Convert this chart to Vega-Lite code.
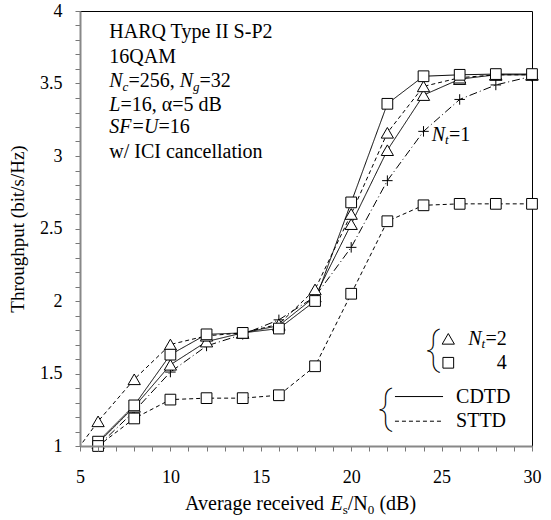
{
  "$schema": "https://vega.github.io/schema/vega-lite/v6.json",
  "width": 452,
  "height": 435,
  "autosize": {"type": "none"},
  "padding": {"left": 80, "top": 11, "right": 19, "bottom": 74},
  "background": "white",
  "resolve": {"axis": {"x": "independent", "y": "independent"}},
  "config": {
    "view": {"stroke": "black", "strokeWidth": 1},
    "font": "Liberation Serif",
    "axis": {
      "domainColor": "#888888",
      "domainWidth": 2,
      "tickColor": "#777777",
      "tickWidth": 1,
      "tickSize": 5,
      "grid": false,
      "labelFont": "Liberation Serif",
      "labelFontSize": 18,
      "labelColor": "black",
      "labelOverlap": false,
      "labelFlush": false,
      "labelBound": false,
      "titleFont": "Liberation Serif",
      "titleFontSize": 19,
      "titleFontWeight": "normal",
      "titleColor": "black"
    }
  },
  "datasets": {
    "curves": [
      {"series": "CDTD Nt=2", "x": 6, "y": 1.02},
      {"series": "CDTD Nt=2", "x": 8, "y": 1.27},
      {"series": "CDTD Nt=2", "x": 10, "y": 1.56},
      {"series": "CDTD Nt=2", "x": 12, "y": 1.72},
      {"series": "CDTD Nt=2", "x": 14, "y": 1.78},
      {"series": "CDTD Nt=2", "x": 16, "y": 1.83},
      {"series": "CDTD Nt=2", "x": 18, "y": 2.03},
      {"series": "CDTD Nt=2", "x": 20, "y": 2.53},
      {"series": "CDTD Nt=2", "x": 22, "y": 3.04},
      {"series": "CDTD Nt=2", "x": 24, "y": 3.42},
      {"series": "CDTD Nt=2", "x": 26, "y": 3.53},
      {"series": "CDTD Nt=2", "x": 28, "y": 3.56},
      {"series": "CDTD Nt=2", "x": 30, "y": 3.56},
      {"series": "CDTD Nt=4", "x": 6, "y": 1.03},
      {"series": "CDTD Nt=4", "x": 8, "y": 1.28},
      {"series": "CDTD Nt=4", "x": 10, "y": 1.63},
      {"series": "CDTD Nt=4", "x": 12, "y": 1.77},
      {"series": "CDTD Nt=4", "x": 14, "y": 1.78},
      {"series": "CDTD Nt=4", "x": 16, "y": 1.81},
      {"series": "CDTD Nt=4", "x": 18, "y": 2.0},
      {"series": "CDTD Nt=4", "x": 20, "y": 2.68},
      {"series": "CDTD Nt=4", "x": 22, "y": 3.36},
      {"series": "CDTD Nt=4", "x": 24, "y": 3.55},
      {"series": "CDTD Nt=4", "x": 26, "y": 3.56},
      {"series": "CDTD Nt=4", "x": 28, "y": 3.565},
      {"series": "CDTD Nt=4", "x": 30, "y": 3.565},
      {"series": "STTD Nt=2", "x": 4, "y": 0.83},
      {"series": "STTD Nt=2", "x": 6, "y": 1.17},
      {"series": "STTD Nt=2", "x": 8, "y": 1.46},
      {"series": "STTD Nt=2", "x": 10, "y": 1.7},
      {"series": "STTD Nt=2", "x": 12, "y": 1.76},
      {"series": "STTD Nt=2", "x": 14, "y": 1.78},
      {"series": "STTD Nt=2", "x": 16, "y": 1.84},
      {"series": "STTD Nt=2", "x": 18, "y": 2.08},
      {"series": "STTD Nt=2", "x": 20, "y": 2.6},
      {"series": "STTD Nt=2", "x": 22, "y": 3.16},
      {"series": "STTD Nt=2", "x": 24, "y": 3.48},
      {"series": "STTD Nt=2", "x": 26, "y": 3.54},
      {"series": "STTD Nt=2", "x": 28, "y": 3.56},
      {"series": "STTD Nt=2", "x": 30, "y": 3.56},
      {"series": "STTD Nt=4", "x": 6, "y": 1.0},
      {"series": "STTD Nt=4", "x": 8, "y": 1.19},
      {"series": "STTD Nt=4", "x": 10, "y": 1.32},
      {"series": "STTD Nt=4", "x": 12, "y": 1.33},
      {"series": "STTD Nt=4", "x": 14, "y": 1.33},
      {"series": "STTD Nt=4", "x": 16, "y": 1.35},
      {"series": "STTD Nt=4", "x": 18, "y": 1.55},
      {"series": "STTD Nt=4", "x": 20, "y": 2.05},
      {"series": "STTD Nt=4", "x": 22, "y": 2.55},
      {"series": "STTD Nt=4", "x": 24, "y": 2.66},
      {"series": "STTD Nt=4", "x": 26, "y": 2.67},
      {"series": "STTD Nt=4", "x": 28, "y": 2.67},
      {"series": "STTD Nt=4", "x": 30, "y": 2.67},
      {"series": "Nt=1", "x": 6, "y": 1.0},
      {"series": "Nt=1", "x": 8, "y": 1.24},
      {"series": "Nt=1", "x": 10, "y": 1.51},
      {"series": "Nt=1", "x": 12, "y": 1.69},
      {"series": "Nt=1", "x": 14, "y": 1.77},
      {"series": "Nt=1", "x": 16, "y": 1.87},
      {"series": "Nt=1", "x": 18, "y": 2.03},
      {"series": "Nt=1", "x": 20, "y": 2.37},
      {"series": "Nt=1", "x": 22, "y": 2.83},
      {"series": "Nt=1", "x": 24, "y": 3.17},
      {"series": "Nt=1", "x": 26, "y": 3.39},
      {"series": "Nt=1", "x": 28, "y": 3.49},
      {"series": "Nt=1", "x": 30, "y": 3.55}
    ]
  },
  "layer": [
    {
      "data": {"name": "curves"},
      "mark": {"type": "line", "clip": true, "strokeWidth": 1, "color": "black"},
      "encoding": {
        "x": {
          "field": "x", "type": "quantitative",
          "scale": {"domain": [5, 30], "nice": false, "zero": false},
          "axis": {
            "orient": "bottom",
            "values": [5,6,7,8,9,10,11,12,13,14,15,16,17,18,19,20,21,22,23,24,25,26,27,28,29,30],
            "labelExpr": "datum.value % 5 === 0 ? datum.label : ''",
            "ticks": true,
            "tickSize": 5,
            "domain": true,
            "zindex": 1,
            "labelOverlap": false,
            "labelPadding": 17,
            "title": null
          }
        },
        "y": {
          "field": "y", "type": "quantitative",
          "scale": {"domain": [1, 4], "nice": false, "zero": false},
          "axis": {
            "orient": "left",
            "values": [1,1.1,1.2,1.3,1.4,1.5,1.6,1.7,1.8,1.9,2,2.1,2.2,2.3,2.4,2.5,2.6,2.7,2.8,2.9,3,3.1,3.2,3.3,3.4,3.5,3.6,3.7,3.8,3.9,4],
            "format": "~g",
            "labelExpr": "abs(datum.value * 2 - round(datum.value * 2)) < 0.01 ? datum.label : ''",
            "ticks": true,
            "tickSize": 5,
            "domain": true,
            "zindex": 1,
            "labelOverlap": false,
            "labelPadding": 13,
            "title": "Throughput (bit/s/Hz)",
            "titlePadding": 12
          }
        },
        "detail": {"field": "series"},
        "strokeDash": {
          "field": "series", "type": "nominal",
          "scale": {
            "domain": ["CDTD Nt=2", "CDTD Nt=4", "STTD Nt=2", "STTD Nt=4", "Nt=1"],
            "range": [[1, 0], [1, 0], [4, 3], [4, 3], [8, 3, 1, 3]]
          },
          "legend": null
        }
      }
    },
    {
      "data": {"name": "curves"},
      "transform": [{"filter": "datum.series === 'Nt=1' && datum.x >= 5"}],
      "mark": {"type": "point", "shape": "M-1,0H1M0,-1V1", "filled": false, "stroke": "black", "strokeWidth": 1, "size": 110, "opacity": 1},
      "encoding": {
        "x": {"field": "x", "type": "quantitative", "axis": null},
        "y": {"field": "y", "type": "quantitative", "axis": null}
      }
    },
    {
      "data": {"name": "curves"},
      "transform": [{"filter": "(datum.series === 'CDTD Nt=2' || datum.series === 'STTD Nt=2') && datum.x >= 5"}],
      "mark": {"type": "point", "shape": "triangle-up", "filled": true, "fill": "white", "stroke": "black", "strokeWidth": 1, "size": 150, "opacity": 1},
      "encoding": {
        "x": {"field": "x", "type": "quantitative", "axis": null},
        "y": {"field": "y", "type": "quantitative", "axis": null}
      }
    },
    {
      "data": {"name": "curves"},
      "transform": [{"filter": "(datum.series === 'STTD Nt=4' || datum.series === 'CDTD Nt=4') && datum.x >= 5"}],
      "mark": {"type": "point", "shape": "square", "filled": true, "fill": "white", "stroke": "black", "strokeWidth": 1, "size": 115, "opacity": 1},
      "encoding": {
        "x": {"field": "x", "type": "quantitative", "axis": null},
        "y": {"field": "y", "type": "quantitative", "axis": null}
      }
    },
    {"data": {"values": [{}]}, "mark": {"type": "text", "align": "left", "baseline": "middle", "fontSize": 20, "text": "HARQ Type II S-P2"}, "encoding": {"x": {"datum": 6.62, "axis": null}, "y": {"datum": 3.852, "axis": null}}},
    {"data": {"values": [{}]}, "mark": {"type": "text", "align": "left", "baseline": "middle", "fontSize": 20, "text": "16QAM"}, "encoding": {"x": {"datum": 6.62, "axis": null}, "y": {"datum": 3.686, "axis": null}}},
    {"data": {"values": [{}]}, "mark": {"type": "text", "align": "left", "baseline": "middle", "fontSize": 20, "fontStyle": "italic", "text": "N"}, "encoding": {"x": {"datum": 6.62, "axis": null}, "y": {"datum": 3.514, "axis": null}}},
    {"data": {"values": [{}]}, "mark": {"type": "text", "align": "left", "baseline": "middle", "fontSize": 13, "fontStyle": "italic", "text": "c"}, "encoding": {"x": {"datum": 7.356, "axis": null}, "y": {"datum": 3.478, "axis": null}}},
    {"data": {"values": [{}]}, "mark": {"type": "text", "align": "left", "baseline": "middle", "fontSize": 20, "text": "=256,"}, "encoding": {"x": {"datum": 7.677, "axis": null}, "y": {"datum": 3.514, "axis": null}}},
    {"data": {"values": [{}]}, "mark": {"type": "text", "align": "left", "baseline": "middle", "fontSize": 20, "fontStyle": "italic", "text": "N"}, "encoding": {"x": {"datum": 10.514, "axis": null}, "y": {"datum": 3.514, "axis": null}}},
    {"data": {"values": [{}]}, "mark": {"type": "text", "align": "left", "baseline": "middle", "fontSize": 13, "fontStyle": "italic", "text": "g"}, "encoding": {"x": {"datum": 11.25, "axis": null}, "y": {"datum": 3.478, "axis": null}}},
    {"data": {"values": [{}]}, "mark": {"type": "text", "align": "left", "baseline": "middle", "fontSize": 20, "text": "=32"}, "encoding": {"x": {"datum": 11.61, "axis": null}, "y": {"datum": 3.514, "axis": null}}},
    {"data": {"values": [{}]}, "mark": {"type": "text", "align": "left", "baseline": "middle", "fontSize": 20, "fontStyle": "italic", "text": "L"}, "encoding": {"x": {"datum": 6.62, "axis": null}, "y": {"datum": 3.355, "axis": null}}},
    {"data": {"values": [{}]}, "mark": {"type": "text", "align": "left", "baseline": "middle", "fontSize": 20, "text": "=16, α=5 dB"}, "encoding": {"x": {"datum": 7.234, "axis": null}, "y": {"datum": 3.355, "axis": null}}},
    {"data": {"values": [{}]}, "mark": {"type": "text", "align": "left", "baseline": "middle", "fontSize": 20, "fontStyle": "italic", "text": "SF"}, "encoding": {"x": {"datum": 6.62, "axis": null}, "y": {"datum": 3.197, "axis": null}}},
    {"data": {"values": [{}]}, "mark": {"type": "text", "align": "left", "baseline": "middle", "fontSize": 20, "text": "="}, "encoding": {"x": {"datum": 7.9, "axis": null}, "y": {"datum": 3.197, "axis": null}}},
    {"data": {"values": [{}]}, "mark": {"type": "text", "align": "left", "baseline": "middle", "fontSize": 20, "fontStyle": "italic", "text": "U"}, "encoding": {"x": {"datum": 8.54, "axis": null}, "y": {"datum": 3.197, "axis": null}}},
    {"data": {"values": [{}]}, "mark": {"type": "text", "align": "left", "baseline": "middle", "fontSize": 20, "text": "=16"}, "encoding": {"x": {"datum": 9.34, "axis": null}, "y": {"datum": 3.197, "axis": null}}},
    {"data": {"values": [{}]}, "mark": {"type": "text", "align": "left", "baseline": "middle", "fontSize": 20, "text": "w/ ICI cancellation"}, "encoding": {"x": {"datum": 6.62, "axis": null}, "y": {"datum": 3.031, "axis": null}}},
    {"data": {"values": [{}]}, "mark": {"type": "text", "align": "left", "baseline": "middle", "fontSize": 20, "fontStyle": "italic", "text": "N"}, "encoding": {"x": {"datum": 24.45, "axis": null}, "y": {"datum": 3.148, "axis": null}}},
    {"data": {"values": [{}]}, "mark": {"type": "text", "align": "left", "baseline": "middle", "fontSize": 13, "fontStyle": "italic", "text": "t"}, "encoding": {"x": {"datum": 25.19, "axis": null}, "y": {"datum": 3.112, "axis": null}}},
    {"data": {"values": [{}]}, "mark": {"type": "text", "align": "left", "baseline": "middle", "fontSize": 20, "text": "=1"}, "encoding": {"x": {"datum": 25.41, "axis": null}, "y": {"datum": 3.148, "axis": null}}},
    {"data": {"values": [{}]}, "mark": {"type": "point", "shape": "triangle-up", "filled": true, "fill": "white", "stroke": "black", "strokeWidth": 1, "size": 150, "opacity": 1}, "encoding": {"x": {"datum": 25.37, "axis": null}, "y": {"datum": 1.739, "axis": null}}},
    {"data": {"values": [{}]}, "mark": {"type": "point", "shape": "square", "filled": true, "fill": "white", "stroke": "black", "strokeWidth": 1, "size": 115, "opacity": 1}, "encoding": {"x": {"datum": 25.37, "axis": null}, "y": {"datum": 1.574, "axis": null}}},
    {"data": {"values": [{}]}, "mark": {"type": "text", "align": "left", "baseline": "middle", "fontSize": 20, "fontStyle": "italic", "text": "N"}, "encoding": {"x": {"datum": 26.48, "axis": null}, "y": {"datum": 1.739, "axis": null}}},
    {"data": {"values": [{}]}, "mark": {"type": "text", "align": "left", "baseline": "middle", "fontSize": 13, "fontStyle": "italic", "text": "t"}, "encoding": {"x": {"datum": 27.21, "axis": null}, "y": {"datum": 1.703, "axis": null}}},
    {"data": {"values": [{}]}, "mark": {"type": "text", "align": "left", "baseline": "middle", "fontSize": 20, "text": "=2"}, "encoding": {"x": {"datum": 27.43, "axis": null}, "y": {"datum": 1.739, "axis": null}}},
    {"data": {"values": [{}]}, "mark": {"type": "text", "align": "right", "baseline": "middle", "fontSize": 20, "text": "4"}, "encoding": {"x": {"datum": 28.6, "axis": null}, "y": {"datum": 1.574, "axis": null}}},
    {"data": {"values": [{}]}, "mark": {"type": "text", "align": "center", "baseline": "middle", "font": "Roboto", "fontWeight": 100, "fontSize": 44, "text": "{"}, "encoding": {"x": {"datum": 24.52, "axis": null}, "y": {"datum": 1.662, "axis": null}}},
    {"data": {"values": [{}]}, "mark": {"type": "rule", "color": "black", "strokeWidth": 1}, "encoding": {"x": {"datum": 22.42, "axis": null}, "x2": {"datum": 25.08}, "y": {"datum": 1.341, "axis": null}}},
    {"data": {"values": [{}]}, "mark": {"type": "rule", "color": "black", "strokeWidth": 1, "strokeDash": [4, 3]}, "encoding": {"x": {"datum": 22.42, "axis": null}, "x2": {"datum": 25.08}, "y": {"datum": 1.171, "axis": null}}},
    {"data": {"values": [{}]}, "mark": {"type": "text", "align": "left", "baseline": "middle", "fontSize": 20, "text": "CDTD"}, "encoding": {"x": {"datum": 25.8, "axis": null}, "y": {"datum": 1.341, "axis": null}}},
    {"data": {"values": [{}]}, "mark": {"type": "text", "align": "left", "baseline": "middle", "fontSize": 20, "text": "STTD"}, "encoding": {"x": {"datum": 25.8, "axis": null}, "y": {"datum": 1.171, "axis": null}}},
    {"data": {"values": [{}]}, "mark": {"type": "text", "align": "center", "baseline": "middle", "font": "Roboto", "fontWeight": 100, "fontSize": 44, "text": "{"}, "encoding": {"x": {"datum": 21.87, "axis": null}, "y": {"datum": 1.252, "axis": null}}},
    {"data": {"values": [{}]}, "mark": {"type": "text", "align": "left", "baseline": "middle", "fontSize": 20, "text": "Average received"}, "encoding": {"x": {"datum": 10.81, "axis": null}, "y": {"datum": 0.597, "axis": null}}},
    {"data": {"values": [{}]}, "mark": {"type": "text", "align": "left", "baseline": "middle", "fontSize": 20, "fontStyle": "italic", "text": "E"}, "encoding": {"x": {"datum": 18.86, "axis": null}, "y": {"datum": 0.597, "axis": null}}},
    {"data": {"values": [{}]}, "mark": {"type": "text", "align": "left", "baseline": "middle", "fontSize": 13, "text": "s"}, "encoding": {"x": {"datum": 19.53, "axis": null}, "y": {"datum": 0.562, "axis": null}}},
    {"data": {"values": [{}]}, "mark": {"type": "text", "align": "left", "baseline": "middle", "fontSize": 20, "text": "/N"}, "encoding": {"x": {"datum": 19.81, "axis": null}, "y": {"datum": 0.597, "axis": null}}},
    {"data": {"values": [{}]}, "mark": {"type": "text", "align": "left", "baseline": "middle", "fontSize": 13, "text": "0"}, "encoding": {"x": {"datum": 20.92, "axis": null}, "y": {"datum": 0.562, "axis": null}}},
    {"data": {"values": [{}]}, "mark": {"type": "text", "align": "left", "baseline": "middle", "fontSize": 20, "text": "(dB)"}, "encoding": {"x": {"datum": 21.56, "axis": null}, "y": {"datum": 0.597, "axis": null}}}
  ]
}
